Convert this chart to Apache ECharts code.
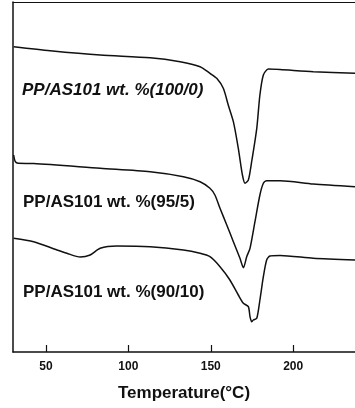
<!DOCTYPE html>
<html>
<head>
<meta charset="utf-8">
<script src="https://cdn.jsdelivr.net/npm/echarts@6/dist/echarts.min.js"></script>
<style>
  html, body { margin: 0; padding: 0; background: #fff; }
  #chart { width: 355px; height: 408px; }
</style>
</head>
<body>
<div id="chart"></div>
<script>
  // temperature (°C) and heat flow (arbitrary units)
  var temp100 = [30.4, 52.6, 82.9, 113.2, 131.4, 143.5, 149.5, 153.6, 157.6, 160.6, 163.7, 166.7, 169.2, 170.8, 172.8, 174.8, 177.9, 179.8, 181.9, 184.9, 192.0, 212.2, 237.5];
  var flow100 = [305.3, 301.3, 297, 294.3, 290.3, 285.3, 278.7, 273.7, 263.7, 247, 230.3, 203.7, 177, 168.7, 172, 190.3, 223.7, 257, 277, 283, 282.5, 280.3, 278.7];

  var temp95 = [30.4, 31.4, 33.2, 42.5, 82.9, 113.2, 133.4, 143.5, 149.5, 152.5, 155.6, 159.7, 163.7, 167.7, 169.8, 171.8, 173.8, 176.8, 179.8, 181.9, 183.9, 192.0, 212.2, 237.5];
  var flow95 = [197, 190.3, 188.7, 188.5, 183.7, 180.3, 175.3, 170.3, 163.7, 157, 143.7, 127, 110.3, 93.7, 84.3, 95.3, 103.7, 130.3, 157, 168.7, 171.3, 171.3, 168, 165.3];

  var temp90 = [30.4, 42.5, 56.7, 62.7, 70.8, 76.8, 82.9, 93.0, 113.2, 133.4, 143.5, 149.5, 155.6, 161.6, 166.7, 169.8, 172.8, 173.8, 174.8, 175.8, 177.9, 179.8, 181.9, 183.9, 185.9, 192.0, 212.2, 237.5];
  var flow90 = [113.7, 110.3, 102, 98.7, 95, 97, 103.7, 106, 105.3, 102, 98.7, 95.3, 85.3, 72, 57, 48.7, 45.3, 35.3, 30.3, 32, 33.7, 52, 75.3, 92, 96, 96.5, 93.7, 92];

  var xTicks = [50, 100, 150, 200];
  var labels = ['PP/AS101 wt. %(100/0)', 'PP/AS101 wt. %(95/5)', 'PP/AS101 wt. %(90/10)'];

  function pairs(xs, ys) {
    return xs.map(function (x, i) { return [x, ys[i]]; });
  }

  function curve(name, xs, ys) {
    return {
      name: name,
      type: 'line',
      data: pairs(xs, ys),
      smooth: 0.25,
      showSymbol: false,
      lineStyle: { color: '#111', width: 1.5 }
    };
  }

  var chart = echarts.init(document.getElementById('chart'));
  chart.setOption({
    animation: false,
    grid: { left: 13, right: 0, top: 2, bottom: 56 },
    xAxis: [{
      type: 'value',
      min: 30,
      max: 237.5,
      name: 'Temperature(°C)',
      nameLocation: 'middle',
      nameGap: 33,
      nameTextStyle: { fontFamily: 'Liberation Sans', fontWeight: 'bold', fontSize: 17, color: '#111' },
      axisLine: { lineStyle: { color: '#111', width: 1.5 } },
      axisTick: { inside: true, length: 7, customValues: xTicks, lineStyle: { color: '#111', width: 1.2 } },
      axisLabel: {
        margin: 9,
        customValues: xTicks,
        fontFamily: 'Liberation Sans', fontWeight: 'bold', fontSize: 12, color: '#111'
      },
      splitLine: { show: false }
    }, {
      type: 'value',
      position: 'top',
      min: 30,
      max: 237.5,
      axisLine: { show: true, onZero: false, lineStyle: { color: '#111', width: 1.2 } },
      axisTick: { show: false },
      axisLabel: { show: false },
      splitLine: { show: false }
    }],
    yAxis: {
      type: 'value',
      min: 0,
      max: 350,
      axisLine: { show: true, lineStyle: { color: '#111', width: 1.5 } },
      axisTick: { show: false },
      axisLabel: { show: false },
      splitLine: { show: false }
    },
    series: [
      curve(labels[0], temp100, flow100),
      curve(labels[1], temp95, flow95),
      curve(labels[2], temp90, flow90)
    ],
    graphic: [
      { type: 'text', left: 22, top: 82, style: { text: labels[0], fontFamily: 'Liberation Sans', fontWeight: 'bold', fontStyle: 'italic', fontSize: 17, fill: '#111' } },
      { type: 'text', left: 23, top: 194, style: { text: labels[1], fontFamily: 'Liberation Sans', fontWeight: 'bold', fontSize: 17, fill: '#111' } },
      { type: 'text', left: 23, top: 284, style: { text: labels[2], fontFamily: 'Liberation Sans', fontWeight: 'bold', fontSize: 17, fill: '#111' } }
    ]
  });
</script>
</body>
</html>
